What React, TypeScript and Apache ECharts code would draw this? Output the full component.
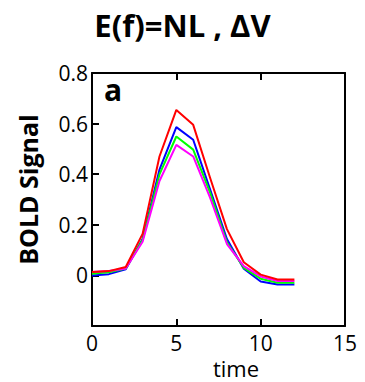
import React, { useEffect, useRef } from "react";
import * as echarts from "echarts";

const timePoints = [0, 1, 2, 3, 4, 5, 6, 7, 8, 9, 10, 11, 12];
const redValues = [0.013, 0.017, 0.033, 0.164, 0.47, 0.654, 0.595, 0.386, 0.183, 0.052, 0.003, -0.016, -0.016];
const blueValues = [0.0, 0.005, 0.024, 0.144, 0.418, 0.586, 0.536, 0.34, 0.144, 0.026, -0.024, -0.036, -0.036];
const greenValues = [0.007, 0.012, 0.027, 0.14, 0.399, 0.549, 0.497, 0.327, 0.131, 0.03, -0.013, -0.029, -0.029];
const magentaValues = [0.013, 0.017, 0.027, 0.133, 0.373, 0.516, 0.47, 0.307, 0.124, 0.037, -0.004, -0.022, -0.022];
const titleText = "E(f)=NL , \u0394V";
const panelLabel = "a";
const xAxisTitle = "time";
const yAxisTitle = "BOLD Signal";

const FONT = "'Comic Sans MS', 'Open Sans', sans-serif";

export default function App() {
  const ref = useRef<HTMLDivElement>(null);
  useEffect(() => {
    if (!ref.current) return;
    const chart = echarts.init(ref.current, null, { renderer: "svg" });
    const mk = (vals: number[], color: string, name: string) => ({
      type: "line",
      name,
      data: timePoints.map((t, i) => [t, vals[i]]),
      showSymbol: false,
      symbol: "none",
      lineStyle: { color, width: 2 },
      itemStyle: { color },
      z: 3,
    });
    const axisLine = { show: true, onZero: false, lineStyle: { color: "#000", width: 2 } };
    const tick = { show: true, inside: true, length: 7, lineStyle: { color: "#000", width: 2 } };
    chart.setOption({
      animation: false,
      backgroundColor: "#ffffff",
      title: {
        text: titleText,
        left: "center",
        top: 4,
        textStyle: { fontFamily: FONT, fontSize: 31, fontWeight: "bold", color: "#000" },
      },
      grid: {
        left: 92,
        right: 20,
        top: 73,
        bottom: 56,
        show: false,
        containLabel: false,
        outerBoundsMode: "none",
      },
      xAxis: [
        {
          type: "value",
          min: 0,
          max: 15,
          interval: 5,
          position: "bottom",
          axisLine,
          axisTick: tick,
          axisLabel: { color: "#000", fontSize: 21, lineHeight: 21, fontFamily: FONT, margin: 6 },
          splitLine: { show: false },
        },
        {
          type: "value",
          min: 0,
          max: 15,
          interval: 5,
          position: "top",
          axisLine,
          axisTick: tick,
          axisLabel: { show: false },
          splitLine: { show: false },
        },
      ],
      yAxis: [
        {
          type: "value",
          min: -0.2,
          max: 0.8,
          interval: 0.2,
          position: "left",
          axisLine,
          axisTick: tick,
          axisLabel: {
            color: "#000",
            fontSize: 21,
            fontFamily: FONT,
            margin: 4,
            formatter: (v: number) => {
              if (v < -0.1) return "";
              if (Math.abs(v) < 1e-9) return "0";
              return v.toFixed(1);
            },
          },
          splitLine: { show: false },
          name: yAxisTitle,
          nameLocation: "middle",
          nameGap: 52,
          nameTextStyle: { color: "#000", fontSize: 25, fontWeight: "bold", fontFamily: FONT, padding: [0, 0, 0, 20] },
        },
        {
          type: "value",
          min: -0.2,
          max: 0.8,
          interval: 0.2,
          position: "right",
          axisLine,
          axisTick: { show: false },
          axisLabel: { show: false },
          splitLine: { show: false },
        },
      ],
      graphic: [
        {
          type: "text",
          left: 104,
          top: 74,
          style: { text: panelLabel, fontFamily: FONT, fontSize: 30, fontWeight: "bold", fill: "#000" },
        },
        {
          type: "text",
          x: 236,
          y: 368,
          style: {
            text: xAxisTitle,
            fontFamily: FONT,
            fontSize: 22,
            lineHeight: 22,
            fill: "#000",
            align: "center",
            verticalAlign: "middle",
          },
        },
      ],
      series: [
        mk(blueValues, "#0000ff", "blue"),
        mk(greenValues, "#00ff00", "green"),
        mk(magentaValues, "#ff00ff", "magenta"),
        mk(redValues, "#ff0000", "red"),
      ],
    });
    return () => chart.dispose();
  }, []);
  return (
    <div
      ref={ref}
      style={{ position: "fixed", left: 0, top: 0, width: 365, height: 382, background: "#fff" }}
    />
  );
}
